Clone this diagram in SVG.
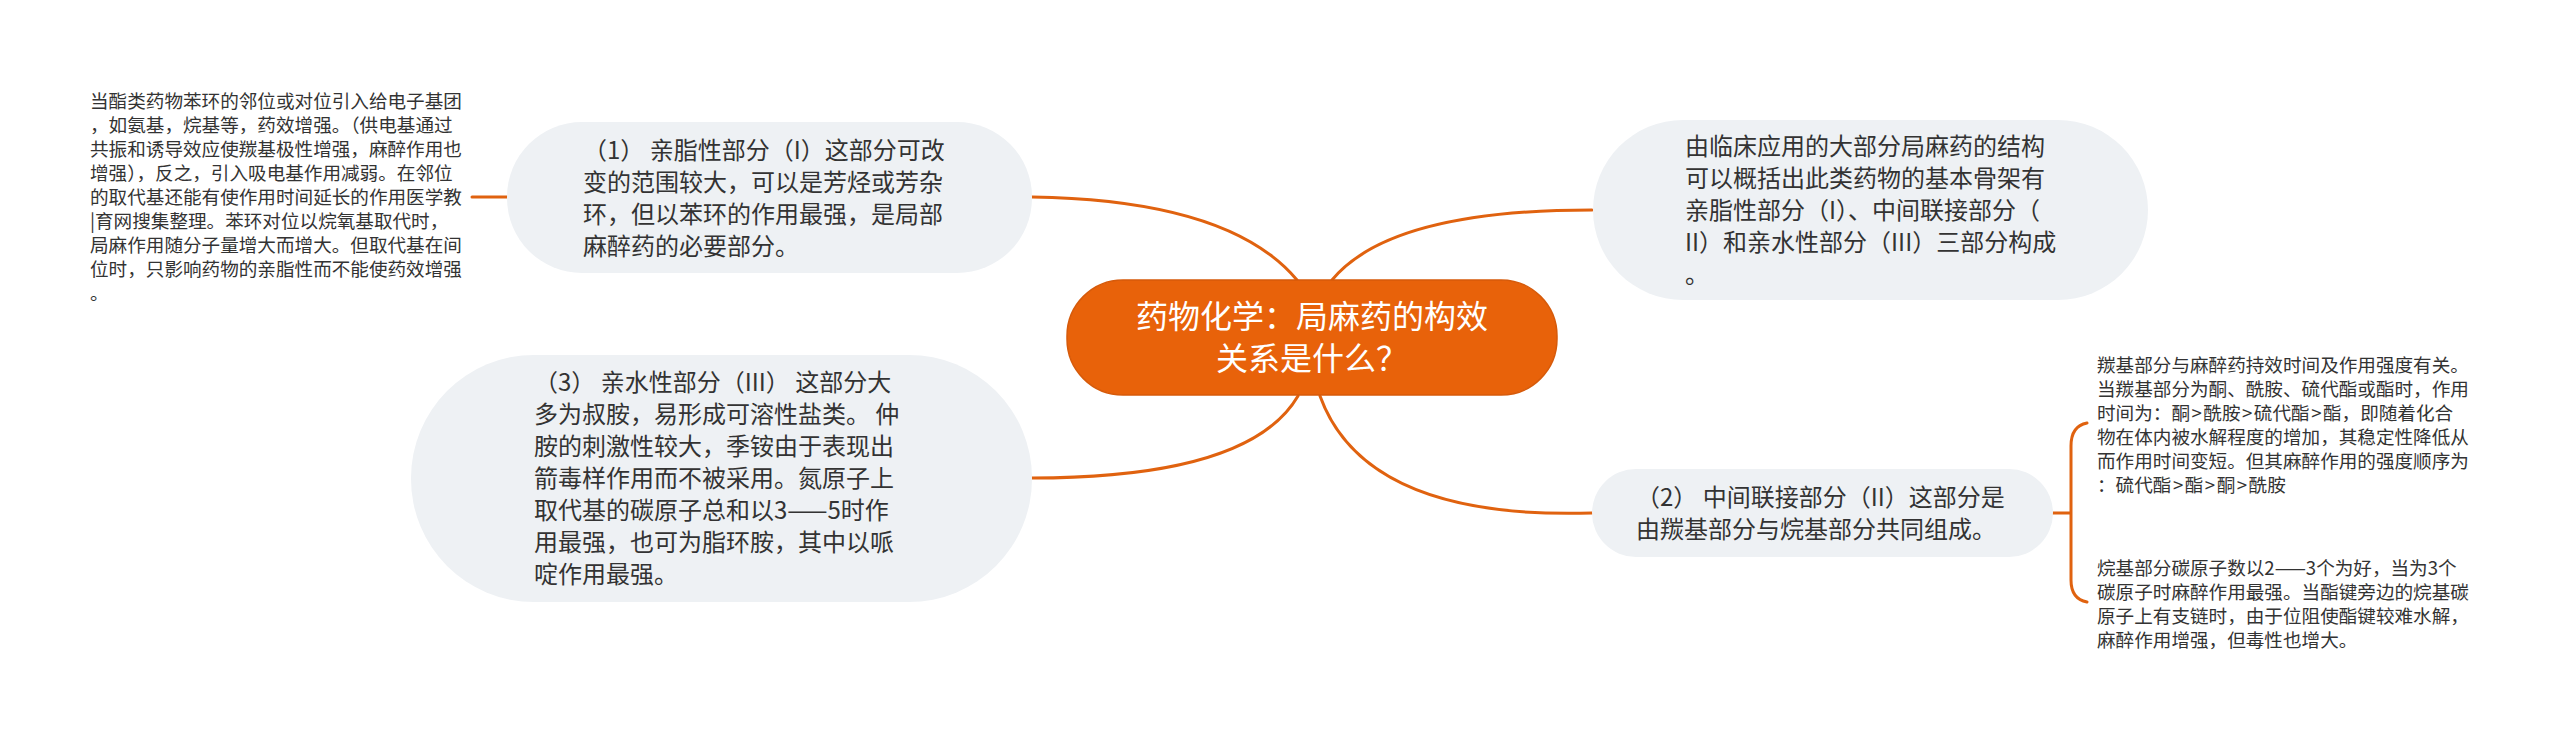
<svg xmlns="http://www.w3.org/2000/svg" width="2560" height="740" viewBox="0 0 2560 740">
<style>
.bg{fill:#ffffff}
.node{fill:#EEF1F4}
.root{fill:#E8620A;stroke:#D65A0A;stroke-width:1.5}
.link{fill:none;stroke:#E0620F;stroke-width:3;stroke-linecap:round}
.t{font-family:"Noto Sans CJK SC","Noto Sans",sans-serif;fill:#333333}
.n{font-size:24px}
.leaf{font-size:18.6px}
.rt{font-family:"Noto Sans CJK SC","Noto Sans",sans-serif;fill:#ffffff;font-size:32px;text-anchor:middle}
</style>
<rect class="bg" x="0" y="0" width="2560" height="740"/>
<g id="connectors">
<path class="link" d="M1297 280 Q1230 200 1032 197"/>
<path class="link" d="M1332 280 Q1390 210 1592 210"/>
<path class="link" d="M1298 396 Q1250 478 1032 478"/>
<path class="link" d="M1320 396 Q1365 520 1592 513"/>
<path class="link" d="M472 197 H507"/>
<path class="link" d="M2053 513 H2070"/>
<path class="link" d="M2087 423 Q2071 426 2071 446 V580 Q2071 599 2087 602"/>
</g>
<g id="root">
<rect class="root" x="1067" y="280" width="490" height="115" rx="56" ry="56"/>
<text class="rt" x="1312" y="328">药物化学：局麻药的构效</text>
<text class="rt" x="1312" y="370">关系是什么？</text>
</g>
<g id="node-lipophilic">
<rect class="node" x="507" y="122" width="525" height="151" rx="75" ry="75"/>
<text class="t n" x="583" y="159">（1） 亲脂性部分（I）这部分可改</text>
<text class="t n" x="583" y="191">变的范围较大，可以是芳烃或芳杂</text>
<text class="t n" x="583" y="223">环，但以苯环的作用最强，是局部</text>
<text class="t n" x="583" y="255">麻醉药的必要部分。</text>
</g>
<g id="leaf-lipophilic">
<text class="t leaf" x="90" y="108">当酯类药物苯环的邻位或对位引入给电子基团</text>
<text class="t leaf" x="90" y="132">，如氨基，烷基等，药效增强。（供电基通过</text>
<text class="t leaf" x="90" y="156">共振和诱导效应使羰基极性增强，麻醉作用也</text>
<text class="t leaf" x="90" y="180">增强），反之，引入吸电基作用减弱。在邻位</text>
<text class="t leaf" x="90" y="204">的取代基还能有使作用时间延长的作用医学教</text>
<text class="t leaf" x="90" y="228">|育网搜集整理。苯环对位以烷氧基取代时，</text>
<text class="t leaf" x="90" y="252">局麻作用随分子量增大而增大。但取代基在间</text>
<text class="t leaf" x="90" y="276">位时，只影响药物的亲脂性而不能使药效增强</text>
<text class="t leaf" x="90" y="300">。</text>
</g>
<g id="node-hydrophilic">
<rect class="node" x="411" y="355" width="621" height="247" rx="123" ry="123"/>
<text class="t n" x="534" y="391">（3） 亲水性部分（III） 这部分大</text>
<text class="t n" x="534" y="423">多为叔胺，易形成可溶性盐类。 仲</text>
<text class="t n" x="534" y="455">胺的刺激性较大，季铵由于表现出</text>
<text class="t n" x="534" y="487">箭毒样作用而不被采用。氮原子上</text>
<text class="t n" x="534" y="519">取代基的碳原子总和以3——5时作</text>
<text class="t n" x="534" y="551">用最强，也可为脂环胺，其中以哌</text>
<text class="t n" x="534" y="583">啶作用最强。</text>
</g>
<g id="node-structure">
<rect class="node" x="1593" y="120" width="555" height="180" rx="90" ry="90"/>
<text class="t n" x="1685" y="155">由临床应用的大部分局麻药的结构</text>
<text class="t n" x="1685" y="187">可以概括出此类药物的基本骨架有</text>
<text class="t n" x="1685" y="219">亲脂性部分（I）、中间联接部分（</text>
<text class="t n" x="1685" y="251">II）和亲水性部分（III）三部分构成</text>
<text class="t n" x="1685" y="283">。</text>
</g>
<g id="node-linker">
<rect class="node" x="1592" y="469" width="461" height="88" rx="44" ry="44"/>
<text class="t n" x="1636" y="506">（2） 中间联接部分（II）这部分是</text>
<text class="t n" x="1636" y="538">由羰基部分与烷基部分共同组成。</text>
</g>
<g id="leaf-carbonyl">
<text class="t leaf" x="2097" y="372">羰基部分与麻醉药持效时间及作用强度有关。</text>
<text class="t leaf" x="2097" y="396">当羰基部分为酮、酰胺、硫代酯或酯时，作用</text>
<text class="t leaf" x="2097" y="420">时间为：酮<tspan dx="1.5">&gt;</tspan><tspan dx="1.5">酰胺</tspan><tspan dx="1.5">&gt;</tspan><tspan dx="1.5">硫代酯</tspan><tspan dx="1.5">&gt;</tspan><tspan dx="1.5">酯，即随着化合</tspan></text>
<text class="t leaf" x="2097" y="444">物在体内被水解程度的增加，其稳定性降低从</text>
<text class="t leaf" x="2097" y="468">而作用时间变短。但其麻醉作用的强度顺序为</text>
<text class="t leaf" x="2097" y="492">：硫代酯<tspan dx="1.5">&gt;</tspan><tspan dx="1.5">酯</tspan><tspan dx="1.5">&gt;</tspan><tspan dx="1.5">酮</tspan><tspan dx="1.5">&gt;</tspan><tspan dx="1.5">酰胺</tspan></text>
</g>
<g id="leaf-alkyl">
<text class="t leaf" x="2097" y="575">烷基部分碳原子数以2——3个为好，当为3个</text>
<text class="t leaf" x="2097" y="599">碳原子时麻醉作用最强。当酯键旁边的烷基碳</text>
<text class="t leaf" x="2097" y="623">原子上有支链时，由于位阻使酯键较难水解，</text>
<text class="t leaf" x="2097" y="647">麻醉作用增强，但毒性也增大。</text>
</g>
</svg>
